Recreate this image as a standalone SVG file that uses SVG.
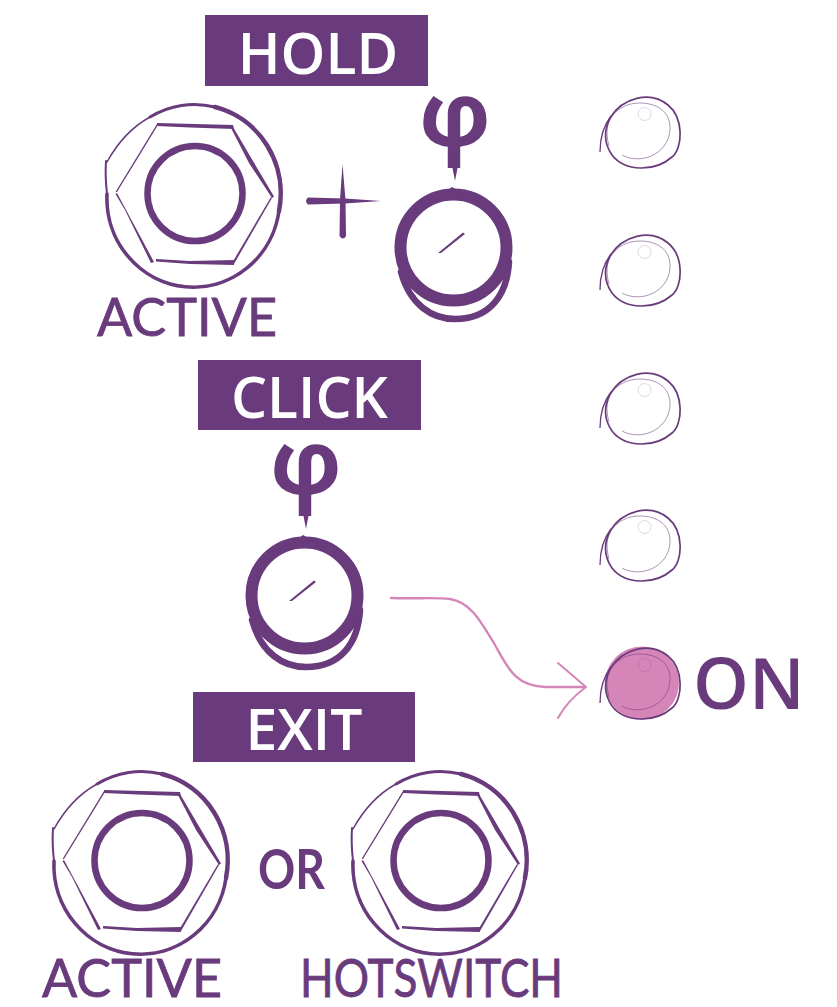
<svg xmlns="http://www.w3.org/2000/svg" width="837" height="1007" viewBox="0 0 837 1007">
<style>
.p{fill:#693b7c}
.s{fill:none;stroke:#693b7c;stroke-linecap:round;stroke-linejoin:round}
.t{font-family:"Open Sans","Liberation Sans",sans-serif;font-weight:600;text-anchor:middle}
.w{fill:#fff;font-size:57px}
.on{font-family:"Open Sans","Liberation Sans",sans-serif;font-weight:600;fill:#693b7c;font-size:71px}
.h{font-family:Lato,"Liberation Sans",sans-serif;font-weight:400;fill:#693b7c;stroke:#693b7c;stroke-width:.8px;font-size:52px}
.phi{font-family:"Open Sans","Liberation Sans",sans-serif;font-weight:700;fill:#693b7c;font-size:90px;text-anchor:middle}
</style>
<defs>
<g id="nut">
<path class="s" stroke-width="1.500" d="M107 162C118 142 132 127 150 117"/>
<path class="s" stroke-width="3" d="M150 117A86.500 89 0 0 1 215 107"/>
<path class="s" stroke-width="4.500" d="M215 107A86.500 89 0 0 1 279 211"/>
<path class="s" stroke-width="3.600" d="M279 211A86.500 89 0 0 1 107 194"/>
<path class="s" stroke-width="2" d="M106 161C105 175 106 185 107 194"/>
<circle class="s" cx="195" cy="193.500" r="47.500" stroke-width="6.500"/>
<path class="p" d="M157 123L233 125L234 129L190 127.500L157 126Z"/>
<path class="p" d="M233 127L253 161L274 196.500L272 198L249 163L231.500 129Z"/>
<path class="p" d="M272 198L234 264L232 263L271 197Z"/>
<path class="p" d="M234 260L234 265L190 264L156 261.500L156 259L190 261Z"/>
<path class="p" d="M117 193L154 262L151 263L125 210L115.500 194Z"/>
<path class="p" d="M157 124L158 125L117 192L115.500 192Z"/>
</g>
<g id="button">
<path class="s" stroke-width="6.500" d="M401 272C410 305 432 319 455 319C490 319 507 295 509 262"/>
<circle class="s" cx="453.500" cy="247.500" r="53" stroke-width="12"/>
<path class="p" d="M445 192L452 187L459 191L455 197Z"/>
<path class="p" d="M438 253L463 232.500L465 234L441 253Z"/>
</g>
<g id="ledlines">
<path fill="none" stroke="#693b7c" stroke-width="1.300" d="M600 152C600 137 604 125 611 116"/>
<path fill="none" stroke="#693b7c" stroke-width="1.700" d="M610 118C622 98 650 90 668 105C684 118 683 148 672 157C655 172 625 172 612 155C603 142 604 130 610 118"/>
<path fill="none" stroke="#693b7c" stroke-opacity=".55" stroke-width="1" d="M622 155C640 165 668 155 670 130C671 110 655 103 640 103C620 103 607 117 607 132C607 138 608 142 609 146"/>
<circle cx="644.500" cy="114" r="6.500" fill="none" stroke="#693b7c" stroke-opacity=".2" stroke-width="1"/>
</g>
</defs>

<g id="hold-label"><rect class="p" x="205" y="15" width="223" height="71"/><text class="t w" x="318" y="74">HOLD</text></g>
<g id="click-label"><rect class="p" x="198" y="360" width="223" height="70"/><text class="t w" x="309.500" y="418">CLICK</text></g>
<g id="exit-label"><rect class="p" x="193" y="692" width="222" height="70"/><text class="t w" x="304" y="750">EXIT</text></g>

<g id="active-nut-hold"><use href="#nut"/><text class="h" x="97" y="336" textLength="180" lengthAdjust="spacingAndGlyphs">ACTIVE</text></g>
<g id="plus"><path class="p" d="M308 197.500L345 198.500L381 201L345 203.500L308 204.500Q304 201 308 197.500Z"/><path class="p" d="M342.500 164L345.500 200L346 236Q343 241 339.500 236L340 200Z"/></g>
<g id="button-hold"><use href="#button"/><text class="phi" x="455" y="146">φ</text><path class="p" d="M450 155L460 155L455 181Z"/></g>
<g id="button-click"><use href="#button" x="-149" y="348"/><text class="phi" x="306" y="494">φ</text><path class="p" d="M301 503L311 503L306 529Z"/></g>
<g id="active-nut-exit"><use href="#nut" x="-53" y="667"/><text class="h" x="42" y="997" textLength="180" lengthAdjust="spacingAndGlyphs">ACTIVE</text></g>
<g id="or"><text class="h" x="258" y="889" style="font-size:56px;font-weight:700;stroke-width:0" textLength="67" lengthAdjust="spacingAndGlyphs">OR</text></g>
<g id="hotswitch-nut"><use href="#nut" x="246" y="667"/><text class="h" x="300" y="997" textLength="263" lengthAdjust="spacingAndGlyphs">HOTSWITCH</text></g>

<g id="led-1"><use href="#ledlines"/></g>
<g id="led-2"><use href="#ledlines" y="138"/></g>
<g id="led-3"><use href="#ledlines" y="276"/></g>
<g id="led-4"><use href="#ledlines" y="413"/></g>
<g id="led-on"><ellipse cx="642" cy="683" rx="37" ry="36.500" fill="#d685b8"/><use href="#ledlines" y="551"/><text class="on" x="693" y="709">ON</text></g>

<g id="connectors" fill="none" stroke="#d685b8" stroke-linecap="round" stroke-linejoin="round">
<path stroke-width="2.400" d="M391 598C415 599 435 597 450 599C470 602 480 620 495 645C508 668 515 686 545 687L585 687"/>
<path stroke-width="2" d="M558 663L586 687C575 695 565 705 558 718"/>
</g>
</svg>
